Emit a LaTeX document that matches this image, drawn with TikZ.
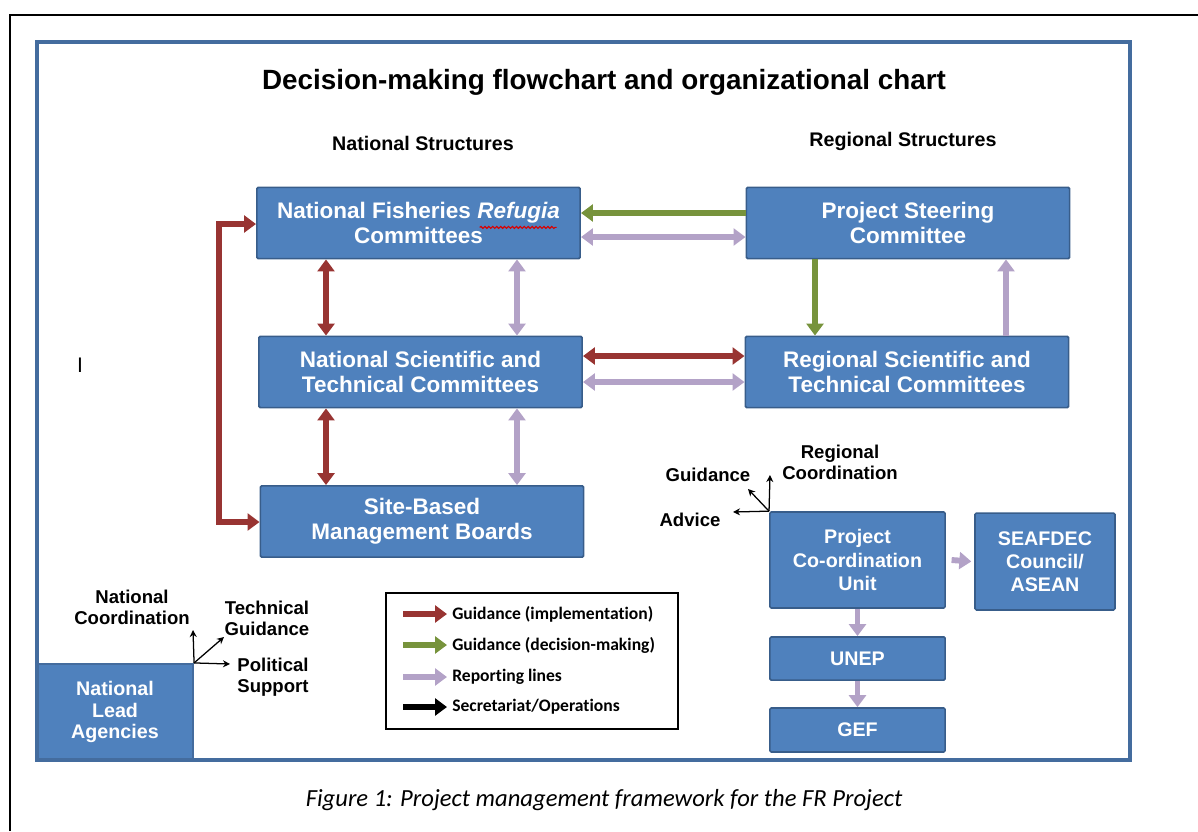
\documentclass[tikz,border=0pt]{standalone}
\usepackage{fontspec}
\setmainfont{Liberation Sans}
\newfontfamily\capfont[Ligatures=NoCommon]{Carlito}
\usetikzlibrary{arrows.meta,decorations.pathmorphing}
\definecolor{boxblue}{RGB}{79,129,189}
\definecolor{boxedge}{RGB}{56,93,138}
\definecolor{frameblue}{RGB}{68,108,158}
\definecolor{guidered}{RGB}{152,52,50}
\definecolor{guidegreen}{RGB}{119,147,60}
\definecolor{reportlilac}{RGB}{179,162,199}
\tikzset{
  bigbox/.style={draw=boxedge, fill=boxblue, line width=1.2pt, rounded corners=1pt,
    text=white, align=center, inner sep=2pt,
    font=\fontsize{16}{17.5}\selectfont\bfseries,
    minimum width=8.08cm, minimum height=1.78cm},
  smallbox/.style={bigbox, font=\fontsize{14}{16.5}\selectfont\bfseries,
    minimum width=4.38cm},
  fat/.style={line width=4.2pt, >={Triangle[width=12pt,length=8.5pt]}},
  slim/.style={line width=0.9pt, >={Stealth[width=5pt,length=5pt]}},
  head/.style={font=\fontsize{14}{16}\selectfont\bfseries},
  tag/.style={font=\fontsize{13.2}{15}\selectfont\bfseries, align=center, inner sep=1pt},
  legtext/.style={font=\capfont\fontsize{12.5}{14}\selectfont\bfseries, anchor=west, inner sep=0pt}
}
\begin{document}
\begin{tikzpicture}[x=0.025cm, y=-0.025cm]
\useasboundingbox (0,0) rectangle (1198,831);
\draw[line width=1.4pt] (10,831) -- (10,15) -- (1198,15);

\node[fill=boxblue, draw=frameblue, line width=1.5pt, text=white, align=center,
  font=\fontsize{14}{15.5}\selectfont\bfseries,
  minimum width=3.9cm, minimum height=2.4cm] (nla) at (115,712) {National\\Lead\\Agencies};
\draw[frameblue, line width=2.8pt] (37,42) rectangle (1130,760);

\node[font=\fontsize{19.8}{22}\selectfont\bfseries] (title) at (604,82)
  {Decision-making flowchart and organizational chart};
\node[head] (nathead) at (423,143) {National Structures};
\node[head] (reghead) at (903,141) {Regional Structures};
\node[font=\fontsize{15}{17}\selectfont] (cursor) at (80,365) {I};

\node[bigbox] (nfrc) at (418.5,223) {National Fisheries \textit{Refugia}\\Committees};
\node[bigbox] (psc) at (908,223) {Project Steering\\Committee};
\node[bigbox] (nstc) at (420.5,372) {National Scientific and\\Technical Committees};
\node[bigbox] (rstc) at (907,372) {Regional Scientific and\\Technical Committees};
\node[bigbox] (sbmb) at (422,521.5) {Site-Based\\Management Boards};
\draw[red!85!black, line width=0.8pt, decorate, decoration={snake, amplitude=0.7pt, segment length=2.8pt}]
  ([xshift=1.53cm, yshift=-0.11cm]nfrc.center) -- ([xshift=3.45cm, yshift=-0.11cm]nfrc.center);

\node[smallbox, minimum height=2.4cm] (pcu) at (857.5,560) {Project\\Co-ordination\\Unit};
\node[smallbox, minimum width=3.5cm, minimum height=2.42cm] (seaf) at (1045,561.5) {SEAFDEC\\Council/\\ASEAN};
\node[smallbox, minimum height=1.08cm] (unep) at (857.5,658.5) {UNEP};
\node[smallbox, minimum height=1.1cm] (gef) at (857.5,730) {GEF};

\coordinate (redcol) at (326,0);
\coordinate (lilaccol) at (517,0);
\coordinate (greencol) at (815,0);
\coordinate (upcol) at (1006,0);
\coordinate (greenrow) at (0,213);
\coordinate (lilacrow) at (0,237);
\coordinate (redrow) at (0,356);
\coordinate (lilacrow2) at (0,382);
\coordinate (ltop) at (219,224);
\coordinate (lbot) at (219,522);

\draw[fat, guidered, <->] (ltop -| nfrc.west) -- (ltop) -- (lbot) -- (lbot -| sbmb.west);
\draw[fat, guidegreen, ->] (psc.west |- greenrow) -- (nfrc.east |- greenrow);
\draw[fat, reportlilac, <->] (nfrc.east |- lilacrow) -- (psc.west |- lilacrow);
\draw[fat, guidered, <->] (nfrc.south -| redcol) -- (nstc.north -| redcol);
\draw[fat, reportlilac, <->] (nfrc.south -| lilaccol) -- (nstc.north -| lilaccol);
\draw[fat, guidered, <->] (nstc.south -| redcol) -- (sbmb.north -| redcol);
\draw[fat, reportlilac, <->] (nstc.south -| lilaccol) -- (sbmb.north -| lilaccol);
\draw[fat, guidered, <->] (nstc.east |- redrow) -- (rstc.west |- redrow);
\draw[fat, reportlilac, <->] (nstc.east |- lilacrow2) -- (rstc.west |- lilacrow2);
\draw[fat, guidegreen, ->] (psc.south -| greencol) -- (rstc.north -| greencol);
\draw[fat, reportlilac, ->] (rstc.north -| upcol) -- (psc.south -| upcol);
\draw[fat, reportlilac, ->] ([xshift=4pt]pcu.east) -- ([xshift=-2pt]seaf.west);
\draw[fat, reportlilac, ->] (pcu) -- (unep);
\draw[fat, reportlilac, ->] (unep) -- (gef);

\coordinate (pcuup) at (770,475);
\coordinate (pcudiag) at (748,489);
\coordinate (pculeft) at (733,512);
\draw[slim, ->] (pcu.north west) -- (pcuup);
\draw[slim, ->] (pcu.north west) -- (pcudiag);
\draw[slim, ->] (pcu.north west) -- (pculeft);
\node[tag] (regco) at (840,462) {Regional\\Coordination};
\node[tag] (guid) at (708,475) {Guidance};
\node[tag] (advice) at (690,520) {Advice};

\coordinate (nlaup) at (193,630);
\coordinate (nladiag) at (224,637);
\coordinate (nlaright) at (230,664);
\draw[slim, ->] (nla.north east) -- (nlaup);
\draw[slim, ->] (nla.north east) -- (nladiag);
\draw[slim, ->] (nla.north east) -- (nlaright);
\node[tag] (natco) at (132,607) {National\\Coordination};
\node[tag] (techg) at (267,618) {Technical\\Guidance};
\node[tag] (polsup) at (273,677) {Political\\Support};

\node[draw, line width=0.8pt, minimum width=7.3cm, minimum height=3.4cm] (legend) at (532,661) {};
\draw[fat, guidered, ->] (403,614) -- (447,614);
\draw[fat, guidegreen, ->] (403,645) -- (447,645);
\draw[fat, reportlilac, ->] (403,677) -- (447,677);
\draw[fat, black, ->] (403,707) -- (447,707);
\node[legtext] (legimpl) at (452,614) {Guidance (implementation)};
\node[legtext] (legdec) at (452,645) {Guidance (decision-making)};
\node[legtext] (legrep) at (452,677) {Reporting lines};
\node[legtext] (legsec) at (452,707) {Secretariat/Operations};

\node[font=\capfont\fontsize{17.5}{20}\selectfont\itshape] (caption) at (604,800)
  {Figure 1: Project management framework for the FR Project};
\end{tikzpicture}
\end{document}
